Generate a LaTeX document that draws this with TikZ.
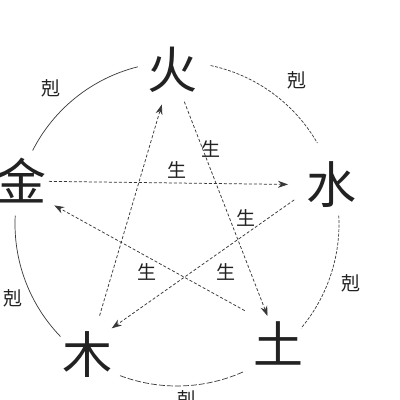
\documentclass[tikz,border=0pt]{standalone}
\usepackage{fontspec}
\newfontfamily\cjk{Noto Sans CJK SC}
\usetikzlibrary{arrows.meta,calc}
\definecolor{ink}{HTML}{222222}
\definecolor{lineg}{HTML}{383838}
\begin{document}
\begin{tikzpicture}[x=1pt,y=1pt,
  elem/.style={font=\cjk\fontsize{50}{50}\selectfont, text=ink, inner sep=0pt},
  lbl/.style={font=\cjk\fontsize{19}{19}\selectfont, text=ink, inner sep=0pt},
  gen/.style={draw=lineg, line width=0.75pt, dash pattern=on 3pt off 2pt, -{Stealth[length=10pt,width=7pt]}},
  arcsolid/.style={draw=lineg, line width=0.7pt},
  arcdash/.style={draw=lineg, line width=0.7pt, dash pattern=on 3pt off 1.5pt},
  arcdashlong/.style={draw=lineg, line width=0.7pt, dash pattern=on 6pt off 2pt}]
\useasboundingbox (0,0) rectangle (400,400);
\fill[white] (0,0) rectangle (400,400);
\coordinate (c) at (177,176);
% elements
\node[elem] (huo) at (172,330) {火};
\node[elem] (shui) at (331,215) {水};
\node[elem] (tu) at (278,57) {土};
\node[elem] (mu) at (88,45) {木};
\node[elem] (jin) at (21,219) {金};
% circle arcs (ke)
\draw[arcsolid] ([shift={(153:162)}]c) arc[start angle=153, end angle=104, radius=162];
\draw[arcdash] ([shift={(78:162)}]c) arc[start angle=78, end angle=30, radius=162];
\draw[arcdash] ([shift={(3:162)}]c) arc[start angle=3, end angle=-40, radius=162];
\draw[arcdashlong] ([shift={(-66:162)}]c) arc[start angle=-66, end angle=-111, radius=162];
\draw[arcsolid] ([shift={(224:162)}]c) arc[start angle=224, end angle=177, radius=162];
% ke labels
\node[lbl] (k1) at (51,312) {剋};
\node[lbl] (k2) at (297,320) {剋};
\node[lbl] (k3) at (351,117) {剋};
\node[lbl] (k4) at (13,102) {剋};
\node[lbl] (k5) at (187,1) {剋};
% sheng arrows
\draw[gen, shorten <=41pt, shorten >=36pt] (mu.center) -- (huo.center);
\draw[gen, shorten <=34pt, shorten >=29pt] (huo.center) -- (tu.center);
\draw[gen, shorten <=38pt, shorten >=38pt] ([yshift=14pt]tu.center) -- ([yshift=-6pt]jin.center);
\draw[gen, shorten <=28pt, shorten >=43pt] (jin.center) -- (shui.center);
\draw[gen, shorten <=45pt, shorten >=29pt] ([yshift=11pt]shui.center) -- ([yshift=10pt]mu.center);
% sheng labels
\node[lbl] (s1) at (211,251) {生};
\node[lbl] (s2) at (177,230) {生};
\node[lbl] (s3) at (246,182) {生};
\node[lbl] (s4) at (147,128) {生};
\node[lbl] (s5) at (226,128) {生};
\end{tikzpicture}
\end{document}
